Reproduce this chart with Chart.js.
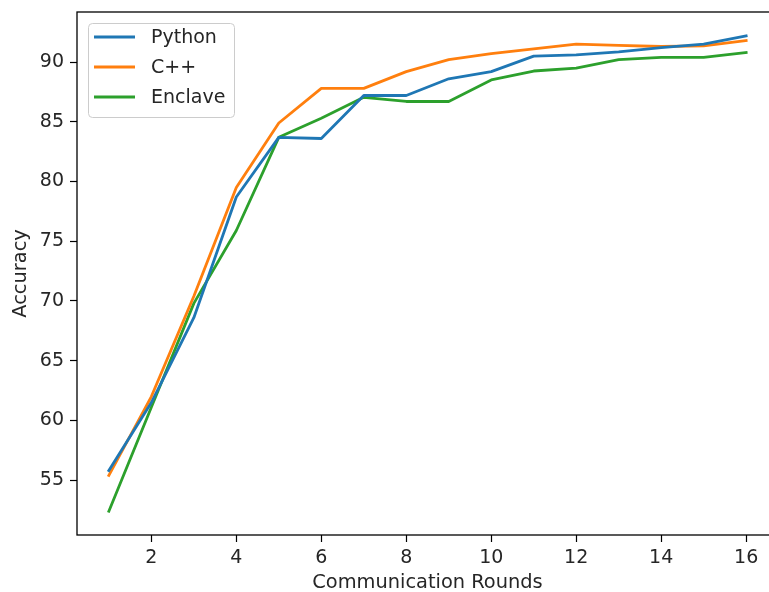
<!DOCTYPE html>
<html>
<head>
<meta charset="utf-8">
<script src="https://cdn.jsdelivr.net/npm/chart.js@4.4.1/dist/chart.umd.min.js"></script>
<style>
  html, body { margin: 0; padding: 0; background: #fff; }
  #wrap { width: 769px; height: 592px; overflow: hidden; position: relative; }
  canvas { display: block; }
</style>
</head>
<body>
<div id="wrap"><canvas id="c" width="790" height="592"></canvas></div>
<script>
// ---- data ----
const rounds = [1, 2, 3, 4, 5, 6, 7, 8, 9, 10, 11, 12, 13, 14, 15, 16];
const pythonAcc = [55.8, 61.5, 68.6, 78.7, 83.7, 83.6, 87.2, 87.2, 88.6, 89.2, 90.5, 90.6, 90.85, 91.2, 91.5, 92.2];
const cppAcc = [55.4, 62.0, 70.4, 79.5, 84.9, 87.8, 87.8, 89.2, 90.2, 90.7, 91.1, 91.5, 91.4, 91.3, 91.35, 91.8];
const enclaveAcc = [52.4, 61.1, 69.8, 75.9, 83.7, 85.3, 87.05, 86.7, 86.7, 88.5, 89.25, 89.5, 90.2, 90.4, 90.4, 90.8];
const seriesNames = ['Python', 'C++', 'Enclave'];
const xTicks = [2, 4, 6, 8, 10, 12, 14, 16];
const yTicks = [55, 60, 65, 70, 75, 80, 85, 90];
const xLabel = 'Communication Rounds';
const yLabel = 'Accuracy';

const colors = ['#1f77b4', '#ff7f0e', '#2ca02c'];
const FONT = 'DejaVu Sans';
const FS = 19;
const TFS = 19.4;

// matplotlib-like 5% margins
const allY = pythonAcc.concat(cppAcc, enclaveAcc);
const yMinD = Math.min(...allY), yMaxD = Math.max(...allY);
const yPad = (yMaxD - yMinD) * 0.05;
const xMinD = Math.min(...rounds), xMaxD = Math.max(...rounds);
const xPad = (xMaxD - xMinD) * 0.05;

const toPts = arr => arr.map((v, i) => ({ x: rounds[i], y: v }));
const seriesData = [pythonAcc, cppAcc, enclaveAcc];

const frameAndLegend = {
  id: 'frameAndLegend',
  afterDatasetsDraw(chart) {
    const ctx = chart.ctx;
    const a = chart.chartArea;
    ctx.save();
    // spines
    ctx.strokeStyle = '#000';
    ctx.lineWidth = 1.3;
    ctx.strokeRect(a.left, a.top, a.right - a.left, a.bottom - a.top);
    // legend box
    const bx = 88, by = 23, bw = 146, bh = 94, r = 4;
    ctx.beginPath();
    ctx.roundRect(bx + 0.5, by + 0.5, bw, bh, r);
    ctx.fillStyle = 'rgba(255,255,255,0.8)';
    ctx.fill();
    ctx.strokeStyle = '#cccccc';
    ctx.lineWidth = 1;
    ctx.stroke();
    ctx.font = FS + 'px "' + FONT + '"';
    ctx.textBaseline = 'middle';
    ctx.textAlign = 'left';
    chart.data.datasets.forEach((ds, i) => {
      const y = 37 + i * 30;
      ctx.beginPath();
      ctx.moveTo(94, y);
      ctx.lineTo(135, y);
      ctx.strokeStyle = ds.borderColor;
      ctx.lineWidth = 2.8;
      ctx.stroke();
      ctx.fillStyle = '#262626';
      ctx.fillText(ds.label, 151, y + 1);
    });
    ctx.restore();
  }
};

new Chart(document.getElementById('c'), {
  type: 'line',
  data: {
    datasets: seriesNames.map((name, i) => ({
      label: name,
      data: toPts(seriesData[i]),
      borderColor: colors[i],
      backgroundColor: colors[i],
      borderWidth: 2.8,
      pointRadius: 0,
      tension: 0,
      fill: false,
      borderJoinStyle: 'round',
      borderCapStyle: 'square'
    }))
  },
  options: {
    responsive: false,
    devicePixelRatio: 1,
    animation: false,
    layout: { padding: { top: 12, right: 12, left: 0, bottom: 0 } },
    plugins: { legend: { display: false }, tooltip: { enabled: false } },
    scales: {
      x: {
        type: 'linear',
        min: xMinD - xPad,
        max: xMaxD + xPad,
        afterBuildTicks: s => { s.ticks = xTicks.map(v => ({ value: v })); },
        afterFit: s => { s.height = 57; s.paddingLeft = 0; s.paddingRight = 0; },
        grid: { drawOnChartArea: false, drawTicks: true, tickLength: 7, color: '#000', tickWidth: 1.2 },
        border: { display: false },
        ticks: { autoSkip: false, maxRotation: 0, padding: 5, color: '#262626', font: { family: FONT, size: FS }, callback: v => String(v) },
        title: { display: true, text: xLabel, color: '#262626', font: { family: FONT, size: TFS, lineHeight: 1 }, padding: { top: 0, bottom: -1 } }
      },
      y: {
        type: 'linear',
        min: yMinD - yPad,
        max: yMaxD + yPad,
        afterBuildTicks: s => { s.ticks = yTicks.map(v => ({ value: v })); },
        afterFit: s => { s.width = 77; s.paddingTop = 0; s.paddingBottom = 0; },
        grid: { drawOnChartArea: false, drawTicks: true, tickLength: 7, color: '#000', tickWidth: 1.2 },
        border: { display: false },
        ticks: { autoSkip: false, padding: 6, color: '#262626', font: { family: FONT, size: FS }, callback: v => String(v) },
        title: { display: true, text: yLabel, color: '#262626', font: { family: FONT, size: TFS, lineHeight: 1 }, padding: { top: 11, bottom: 0 } }
      }
    }
  },
  plugins: [frameAndLegend]
});
</script>
</body>
</html>
